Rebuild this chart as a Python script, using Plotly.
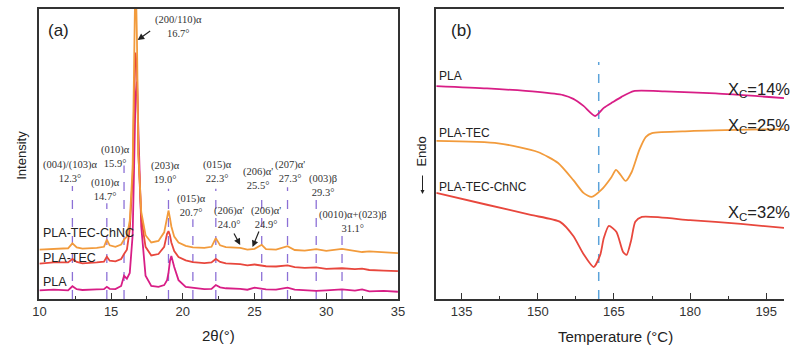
import plotly.graph_objects as go

# ---------------- Panel (a): XRD ----------------
two_theta = [10, 11, 12, 12.3, 12.6, 13, 14, 14.5, 14.7, 14.9, 15.3, 15.7, 15.9, 16.1, 16.3,
             16.5, 16.6, 16.7, 16.8, 16.9, 17.1, 17.4, 17.8, 18.3, 18.7, 18.9, 19.0, 19.1,
             19.2, 19.4, 19.7, 20.2, 20.7, 21.5, 22.0, 22.3, 22.6, 23.0, 24.0, 24.5, 25.0,
             25.5, 25.8, 26.5, 27.3, 27.8, 28.5, 29.3, 30, 31.1, 32, 32.5, 33, 34, 35]

xrd_chnc = [17.0, 17.3, 17.5, 19.2, 17.8, 17.4, 17.6, 18.0, 20.5, 18.5, 18.0, 18.8, 20.5, 21.5, 27,
            45, 80, 115, 90, 50, 30, 22, 19.5, 20, 23, 29, 30.5, 28,
            25, 21.5, 19.5, 18.3, 17.8, 17.6, 18.0, 21.0, 18.5, 17.9, 17.6, 17.0, 17.3,
            18.7, 17.2, 17.0, 18.2, 16.9, 16.7, 17.2, 16.6, 17.3, 16.5, 16.2, 16.4, 16.0, 15.8]

xrd_tec = [12.2, 12.6, 12.6, 13.8, 12.8, 12.3, 12.6, 12.9, 14.6, 13.2, 13.0, 13.8, 15.5, 17, 24,
           42, 68, 85, 80, 50, 28, 18, 15, 15.5, 18, 22.5, 23.4, 22,
           19.5, 16.5, 14.5, 13.3, 12.7, 12.4, 12.6, 13.8, 12.8, 12.3, 12.0, 11.6, 11.9,
           11.5, 11.3, 11.2, 11.6, 11.0, 10.7, 10.9, 10.4, 10.6, 10.3, 10.5, 10.0, 9.8, 9.6]

xrd_pla = [3.0, 3.2, 3.0, 4.4, 3.4, 3.1, 3.3, 3.4, 4.2, 3.5, 3.4, 4.5, 8.0, 7.0, 9,
           22, 45, 70, 75, 55, 25, 8, 4.5, 4.2, 4.8, 6.5, 9, 13,
           14.8, 11, 6.5, 4.2, 3.8, 3.4, 3.5, 4.8, 4.0, 3.7, 3.5, 3.2, 3.9,
           3.4, 3.3, 3.2, 3.9, 3.2, 3.0, 2.8, 3.0, 3.3, 2.9, 3.3, 2.6, 2.8, 2.5]

peak_pos = [12.3, 14.7, 15.9, 19.0, 20.7, 22.3, 25.5, 27.3, 29.3, 31.1]
peak_text = ["(004)/(103)α<br>12.3°", "(010)α<br>14.7°", "(010)α<br>15.9°", "(203)α<br>19.0°",
             "(015)α<br>20.7°", "(015)α<br>22.3°", "(206)α'<br>25.5°", "(207)α'<br>27.3°",
             "(003)β<br>29.3°", "(0010)α+(023)β<br>31.1°"]
# layout: top of dashed line, label centre (x, y) in data units
peak_line_top = [39.0, 33.0, 46.0, 38.0, 27.5, 38.0, 37.0, 38.5, 35.0, 23.0]
peak_label_xy = [(12.12, 44.1), (14.59, 37.9), (15.34, 49.1), (18.77, 43.6), (20.62, 32.4),
                 (22.4, 43.8), (25.27, 41.7), (27.47, 43.8), (29.8, 39.1), (31.9, 26.7)]

# ---------------- Panel (b): DSC ----------------
t_pla = [130, 140, 150, 155, 157, 159, 161.3, 163, 164.8, 166.5, 168.9, 175, 185, 198.5]
dsc_pla = [73.4, 72.6, 71.4, 70.3, 69.0, 66.6, 63.1, 65.9, 67.9, 69.7, 71.7, 71.6, 70.9, 69.3]

t_tec = [130, 142.2, 150, 154, 157, 159, 160.6, 162.5, 164.5, 165.4, 166.3, 167.3, 168.5,
         170, 171.3, 172.5, 180, 198.5]
dsc_tec = [54.5, 53.7, 50.7, 46.9, 41.0, 36.6, 35.2, 37.6, 42.0, 44.5, 42.8, 40.7, 43.8,
           51.4, 55.9, 57.2, 57.9, 58.6]

t_chnc = [130, 140, 148.6, 154.4, 157, 159, 161, 162.3, 163, 164, 165.5, 166.8, 167.5,
          168.4, 169.2, 170.5, 180, 190, 198.5]
dsc_chnc = [36.6, 32.5, 29.0, 26.6, 21.7, 15.5, 11.0, 15.2, 21.0, 25.2, 23.1, 16.2, 15.2,
            20.3, 26.6, 28.3, 27.2, 25.9, 24.5]

xc_labels = ["X<sub>C</sub>=14%", "X<sub>C</sub>=25%", "X<sub>C</sub>=32%"]
xc_y = [72.1, 59.7, 29.7]
tm_line = 162.0

ORANGE = "#F29B3C"
RED = "#E8473D"
MAGENTA = "#D81E86"
PURPLE = "#8C70D6"
BLUE = "#5BA3DA"
SANS = "Liberation Sans, Arial, sans-serif"
SERIF = "Liberation Serif, Times New Roman, serif"

fig = go.Figure()

for y, c in [(xrd_pla, MAGENTA), (xrd_tec, RED), (xrd_chnc, ORANGE)]:
    fig.add_trace(go.Scatter(x=two_theta, y=y, mode="lines", line=dict(color=c, width=1.8),
                             xaxis="x", yaxis="y", showlegend=False, hoverinfo="skip"))

for t, y, c in [(t_pla, dsc_pla, MAGENTA), (t_tec, dsc_tec, ORANGE), (t_chnc, dsc_chnc, RED)]:
    fig.add_trace(go.Scatter(x=t, y=y, mode="lines", line=dict(color=c, width=1.8, shape="spline", smoothing=0.6),
                             xaxis="x2", yaxis="y2", showlegend=False, hoverinfo="skip"))

shapes = []
for p, top in zip(peak_pos, peak_line_top):
    shapes.append(dict(type="line", xref="x", yref="y", x0=p, x1=p, y0=0, y1=top,
                       line=dict(color=PURPLE, width=1.3, dash="dash"), layer="below"))
shapes.append(dict(type="line", xref="x2", yref="y2", x0=tm_line, x1=tm_line, y0=0, y1=81.7,
                   line=dict(color=BLUE, width=1.5, dash="dash"), layer="below"))

ann = []
for txt, (lx, ly) in zip(peak_text, peak_label_xy):
    ann.append(dict(x=lx, y=ly, xref="x", yref="y", text=txt, showarrow=False,
                    font=dict(family=SERIF, size=10.5, color="#333"), xanchor="center", yanchor="middle"))
# arrowed labels
ann.append(dict(x=19.73, y=93.8, xref="x", yref="y", text="(200/110)α<br>16.7°", showarrow=False,
                font=dict(family=SERIF, size=10.5, color="#333")))
ann.append(dict(x=23.2, y=28.1, xref="x", yref="y", text="(206)α'<br>24.0°", showarrow=False,
                font=dict(family=SERIF, size=10.5, color="#333")))
ann.append(dict(x=25.8, y=28.1, xref="x", yref="y", text="(206)α'<br>24.9°", showarrow=False,
                font=dict(family=SERIF, size=10.5, color="#333")))
for hx, hy, ax, ay in [(16.85, 89.3, 14, -10), (24.0, 18.6, -7, -13), (24.86, 17.9, 7, -17)]:
    ann.append(dict(x=hx, y=hy, xref="x", yref="y", text="", showarrow=True, ax=ax, ay=ay,
                    arrowhead=2, arrowsize=1.1, arrowwidth=1.2, arrowcolor="#222"))

# series labels (a)
for txt, yy in [("PLA-TEC-ChNC", 22.8), ("PLA-TEC", 14.2), ("PLA", 5.9)]:
    ann.append(dict(x=10.1, y=yy, xref="x", yref="y", text=txt, showarrow=False, xanchor="left",
                    font=dict(family=SANS, size=12.5, color="#222")))
# series labels (b)
for txt, yy in [("PLA", 76.9), ("PLA-TEC", 57.2), ("PLA-TEC-ChNC", 38.6)]:
    ann.append(dict(x=130.2, y=yy, xref="x2", yref="y2", text=txt, showarrow=False, xanchor="left",
                    font=dict(family=SANS, size=12, color="#222")))
for txt, yy in zip(xc_labels, xc_y):
    ann.append(dict(x=1.0, y=yy, xref="paper", yref="y2", text=txt, showarrow=False, xanchor="right",
                    xshift=8, yanchor="middle", font=dict(family=SANS, size=16.5, color="#222")))


def paper_text(px, py, text, size, angle=0):
    return dict(x=px / 791, y=(346 - py) / 346, xref="paper", yref="paper", text=text,
                textangle=angle, showarrow=False, xanchor="center", yanchor="middle",
                font=dict(family=SANS, size=size, color="#222"))


ann += [
    paper_text(52, 30, "(a)", 17),
    paper_text(463, 30, "(b)", 17),
    paper_text(14, 155, "Intensity", 13, -90),
    paper_text(421, 152, "Endo", 13, -90),
    dict(x=423 / 791, y=(346 - 194) / 346, xref="paper", yref="paper", text="", showarrow=True,
         ax=0, ay=-20, arrowhead=2, arrowsize=0.8, arrowwidth=1, arrowcolor="#222"),
    paper_text(215, 335, "2θ(°)", 15),
    paper_text(619, 336, "Temperature (°C)", 15),
]

ybot = (346 - 299) / 346
ytop = (346 - 9) / 346
axis_common = dict(showline=True, linecolor="#333", linewidth=1.6, showgrid=False, zeroline=False,
                   ticks="inside", ticklen=6, tickwidth=1.3, tickcolor="#333",
                   tickfont=dict(family=SANS, size=13, color="#333"))

fig.update_layout(
    width=791, height=346, margin=dict(l=0, r=0, t=0, b=0),
    paper_bgcolor="white", plot_bgcolor="white",
    xaxis=dict(domain=[33 / 791, 398 / 791], range=[10, 35], dtick=5, tick0=10, mirror=True,
               minor=dict(ticks="inside", ticklen=3, dtick=2.5, tick0=10, tickcolor="#333"),
               anchor="y", **axis_common),
    yaxis=dict(domain=[ybot, ytop], range=[0, 100], showline=True, linecolor="#333", linewidth=1.6,
               mirror=True, showticklabels=False, ticks="", showgrid=False, zeroline=False, anchor="x"),
    xaxis2=dict(domain=[437 / 791, 1.0], range=[130, 198.5], dtick=15, tick0=135, mirror=True,
                minor=dict(ticks="inside", ticklen=3, dtick=7.5, tick0=135, tickcolor="#333"),
                anchor="y2", **axis_common),
    yaxis2=dict(domain=[ybot, ytop], range=[0, 100], showline=True, linecolor="#333", linewidth=1.6,
                mirror=False, showticklabels=False, ticks="", showgrid=False, zeroline=False, anchor="x2"),
    shapes=shapes, annotations=ann,
)

fig.write_html("out.html")
